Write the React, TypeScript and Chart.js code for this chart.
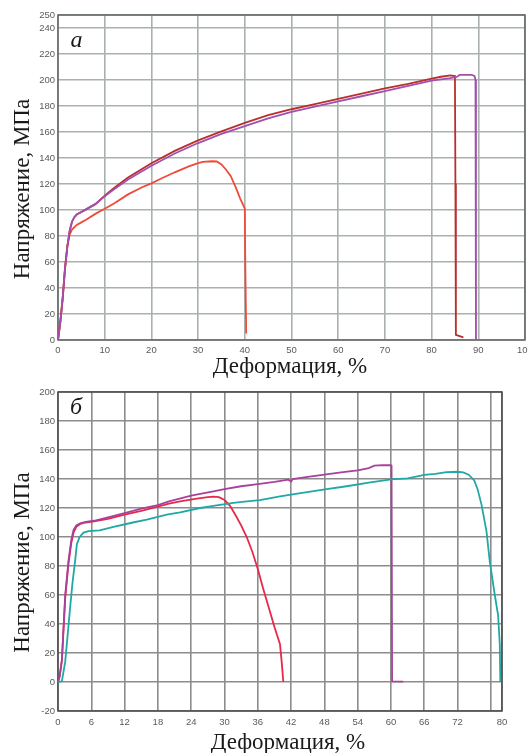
import React, { useEffect, useRef } from 'react';
import { Chart, registerables } from 'chart.js';

Chart.register(...registerables);

// ---------- Panel "а" data ----------
const aDarkRedX = [0, 0.5, 1, 1.5, 2, 2.5, 3, 3.5, 4, 5, 6, 8, 10, 12, 15, 20, 25, 30, 35, 40, 45, 50, 55, 60, 65, 70, 75, 80, 82, 84, 85, 85.1, 85.2, 86.8];
const aDarkRedY = [0, 14, 32, 55, 72, 84, 91, 94.5, 96.5, 98.5, 100.5, 104.5, 111, 117, 125, 136, 145.5, 153.5, 160.5, 167, 173, 177.5, 181.5, 185.5, 189.5, 193.5, 197, 201, 202.5, 203.5, 203, 120, 4, 2];

const aPurpleX = [0, 0.5, 1, 1.5, 2, 2.5, 3, 3.5, 4, 5, 6, 8, 10, 12, 15, 20, 25, 30, 35, 40, 45, 50, 55, 60, 65, 70, 75, 80, 84, 85.5, 86, 88.6, 89.2, 89.4, 89.5];
const aPurpleY = [0, 14, 32, 55, 72, 84, 91, 94.5, 96.5, 98.5, 100.5, 104.5, 110.5, 116, 123.5, 134, 143.5, 151.5, 158.5, 164.5, 170.5, 175.5, 179.5, 183.5, 187.5, 191.5, 195.5, 199.5, 201.5, 202.5, 204, 204, 203, 200, 0];

const aOrangeX = [0, 0.5, 1, 1.5, 2, 2.5, 3, 4, 5, 6, 8, 10, 12, 15, 18, 20, 22, 25, 28, 30, 31, 33, 34, 35, 36, 37, 38, 39, 40, 40.1, 40.3];
const aOrangeY = [0, 14, 32, 55, 72, 81, 85, 88.5, 90.5, 92.5, 97, 101, 105, 112, 117.5, 120.5, 124, 129, 133.5, 136, 137, 137.5, 137.3, 135, 131, 126, 118, 109, 101, 60, 5];

const aXTicks = [0, 10, 20, 30, 40, 50, 60, 70, 80, 90, 100];
const aYTicks = [0, 20, 40, 60, 80, 100, 120, 140, 160, 180, 200, 220, 240, 250];

// ---------- Panel "б" data ----------
const bMagentaX = [0, 0.3, 0.7, 1.3, 1.9, 2.4, 2.8, 3.3, 4, 5, 6.5, 9, 12, 15, 18, 20, 24, 28, 30, 33, 36, 39, 41.5, 42, 42.3, 45, 48, 51, 54, 56, 57, 58.5, 60, 60.1, 60.2, 62.2];
const bMagentaY = [0, 4, 15, 60, 84, 98, 105, 108, 109.5, 110.5, 111.2, 113.5, 116.5, 119.5, 122, 124.5, 128.5, 131.5, 133, 135, 136.5, 138, 139.5, 138.3, 140, 141.5, 143, 144.5, 146, 147.5, 149.2, 149.5, 149.5, 149, 0.5, 0.3];

const bRedX = [0, 0.3, 0.7, 1.3, 1.9, 2.4, 2.8, 3.3, 4, 5, 6.5, 9, 12, 15, 18, 20, 22, 25, 27, 28, 29, 30, 31, 32, 33, 34, 35, 36, 37, 38, 39, 40, 40.3, 40.6];
const bRedY = [0, 4, 15, 58, 82, 96, 103, 107, 109, 110, 110.8, 112.5, 115.5, 118, 121, 123, 124.5, 126.5, 127.5, 127.8, 127.5, 125.5, 121.5, 115, 108, 100, 90, 78, 64, 51, 38, 26, 14, 0];

const bTealX = [0, 0.7, 1.3, 1.8, 2.2, 2.6, 3.1, 3.4, 3.9, 4.6, 5.5, 7.5, 10, 13.5, 16, 19.6, 22, 25.6, 28, 31.6, 34, 36.4, 40, 44, 48.4, 52, 56, 60, 63, 66, 68, 70, 72, 73, 74, 75, 75.6, 76.3, 77.2, 77.8, 78.7, 79.3, 79.6, 79.7];
const bTealY = [0, 0.5, 14, 35, 52, 68, 84, 95, 100, 103, 104, 104.5, 107, 110, 112, 115.5, 117, 120, 121.5, 123.5, 124.5, 125.5, 128, 130.5, 133, 135, 137.5, 139.8, 140.5, 142.8, 143.5, 144.8, 145, 144.5, 143, 139, 133, 122.5, 104, 83, 60, 46, 26, 0];

const bXTicks = [0, 6, 12, 18, 24, 30, 36, 42, 48, 54, 60, 66, 72, 78, 80];
const bXHiddenLabels = [78];
const bYTicks = [-20, 0, 20, 40, 60, 80, 100, 120, 140, 160, 180, 200];

const yTitle = 'Напряжение, МПа';
const xTitle = 'Деформация, %';

function pts(xs: number[], ys: number[]) {
  return xs.map((x, i) => ({ x, y: ys[i] }));
}

type PanelOpts = {
  letter: string;
  letterX: number;
  letterY: number;
  yTitleX: number;
  yTitleY: number;
  xTitleX: number;
  xTitleY: number;
  borderColor: string;
};

function makePlugin(o: PanelOpts) {
  return {
    id: 'panelDecor',
    beforeDatasetsDraw(chart: any) {
      const { ctx, chartArea } = chart;
      ctx.save();
      ctx.strokeStyle = o.borderColor;
      ctx.lineWidth = 1.5;
      ctx.strokeRect(chartArea.left, chartArea.top, chartArea.right - chartArea.left, chartArea.bottom - chartArea.top);
      ctx.restore();
    },
    afterDraw(chart: any) {
      const { ctx } = chart;
      ctx.save();
      ctx.fillStyle = '#1a1a1a';
      ctx.font = '23px "Liberation Serif"';
      ctx.textAlign = 'center';
      ctx.textBaseline = 'alphabetic';
      ctx.fillText(xTitle, o.xTitleX, o.xTitleY);
      ctx.save();
      ctx.translate(o.yTitleX, o.yTitleY);
      ctx.rotate(-Math.PI / 2);
      ctx.fillText(yTitle, 0, 0);
      ctx.restore();
      ctx.font = 'italic 24px "Liberation Serif"';
      ctx.textAlign = 'left';
      ctx.fillText(o.letter, o.letterX, o.letterY);
      ctx.restore();
    },
  };
}

function buildConfig(
  datasets: any[],
  xMin: number, xMax: number, xTicks: number[], hidden: number[],
  yMin: number, yMax: number, yTicks: number[],
  padding: any, xHeight: number, xPad: number, gridColor: string, plugin: any
) {
  const tickFont = { family: '"Liberation Sans", Arial, sans-serif', size: 9.5 };
  return {
    type: 'line',
    data: { datasets },
    options: {
      animation: false,
      responsive: false,
      maintainAspectRatio: false,
      layout: { padding },
      plugins: { legend: { display: false }, tooltip: { enabled: false } },
      elements: { point: { radius: 0 }, line: { tension: 0, borderWidth: 1.8 } },
      scales: {
        x: {
          type: 'linear',
          min: xMin,
          max: xMax,
          afterBuildTicks: (s: any) => { s.ticks = xTicks.map((v) => ({ value: v })); },
          afterFit: (s: any) => { s.height = xHeight; s.paddingLeft = 0; s.paddingRight = 0; },
          grid: { color: gridColor, lineWidth: 1.6, drawTicks: false },
          border: { display: false },
          ticks: {
            autoSkip: false,
            maxRotation: 0,
            padding: xPad,
            color: '#5a5a5a',
            font: tickFont,
            callback: (v: any) => (hidden.includes(Number(v)) ? '' : String(v)),
          },
          title: { display: false },
        },
        y: {
          type: 'linear',
          min: yMin,
          max: yMax,
          afterBuildTicks: (s: any) => { s.ticks = yTicks.map((v) => ({ value: v })); },
          afterFit: (s: any) => { s.width = 58; s.paddingTop = 0; s.paddingBottom = 0; },
          grid: { color: gridColor, lineWidth: 1.6, drawTicks: false },
          border: { display: false },
          ticks: {
            autoSkip: false,
            padding: 3,
            color: '#5a5a5a',
            font: tickFont,
            callback: (v: any) => String(v),
          },
          title: { display: false },
        },
      },
    },
    plugins: [plugin],
  };
}

export default function App() {
  const topRef = useRef<HTMLCanvasElement>(null);
  const botRef = useRef<HTMLCanvasElement>(null);

  useEffect(() => {
    const top = new Chart(
      topRef.current as HTMLCanvasElement,
      buildConfig(
        [
          { data: pts(aPurpleX, aPurpleY), borderColor: '#a24fae' },
          { data: pts(aDarkRedX, aDarkRedY), borderColor: '#b8302e' },
          { data: pts(aOrangeX, aOrangeY), borderColor: '#ee4b3a' },
        ],
        0, 100, aXTicks, [],
        0, 250, aYTicks,
        { left: 0, top: 15, right: 3, bottom: 0 }, 45, 5, '#a9b1ae',
        makePlugin({
          letter: 'а', letterX: 70.5, letterY: 46.5,
          yTitleX: 29, yTitleY: 189,
          xTitleX: 290, xTitleY: 373,
          borderColor: '#5f6463',
        })
      ) as any
    );
    const bot = new Chart(
      botRef.current as HTMLCanvasElement,
      buildConfig(
        [
          { data: pts(bTealX, bTealY), borderColor: '#1fa8a6' },
          { data: pts(bMagentaX, bMagentaY), borderColor: '#a8419c' },
          { data: pts(bRedX, bRedY), borderColor: '#e8284a' },
        ],
        0, 80, bXTicks, bXHiddenLabels,
        -20, 200, bYTicks,
        { left: 0, top: 17, right: 26, bottom: 0 }, 42, 6, '#8c8c8c',
        makePlugin({
          letter: 'б', letterX: 70, letterY: 38.5,
          yTitleX: 29, yTitleY: 187.5,
          xTitleX: 288, xTitleY: 373.5,
          borderColor: '#4a4a4a',
        })
      ) as any
    );
    return () => {
      top.destroy();
      bot.destroy();
    };
  }, []);

  return (
    <div style={{ position: 'absolute', left: 0, top: 0, width: 528, height: 753, background: '#fff' }}>
      <canvas ref={botRef} width={528} height={378} style={{ position: 'absolute', left: 0, top: 375, width: 528, height: 378 }} />
      <canvas ref={topRef} width={528} height={385} style={{ position: 'absolute', left: 0, top: 0, width: 528, height: 385 }} />
    </div>
  );
}
